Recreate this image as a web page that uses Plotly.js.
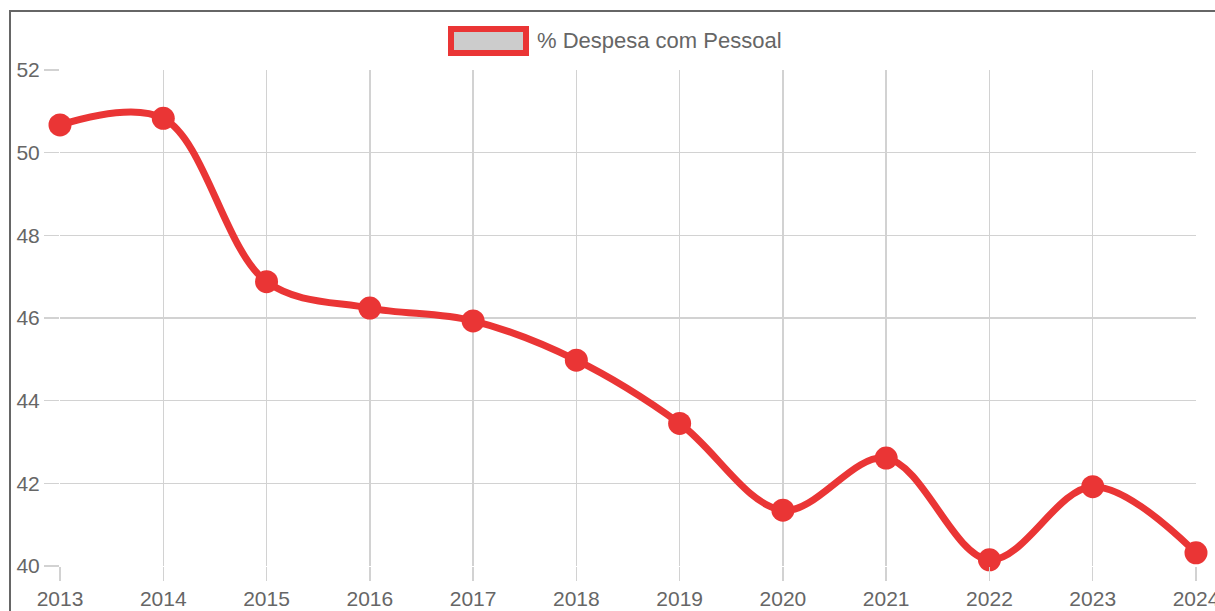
<!DOCTYPE html>
<html>
<head>
<meta charset="utf-8">
<script src="https://cdn.plot.ly/plotly-3.0.1.min.js"></script>
<style>
  html, body { margin: 0; padding: 0; background: #fff; overflow: hidden; }
  #chart { width: 1215px; height: 611px; position: absolute; left: 0; top: 0; }
  #frame { position: absolute; left: 9px; top: 10px; width: 1400px; height: 800px;
           border-top: 2px solid #666; border-left: 2px solid #666; pointer-events: none; }
</style>
</head>
<body>
<div id="chart"></div>
<div id="frame"></div>
<script>
const years = ['2013','2014','2015','2016','2017','2018','2019','2020','2021','2022','2023','2024'];
const despesaPessoal = [50.67, 50.83, 46.88, 46.24, 45.93, 44.98, 43.45, 41.35, 42.61, 40.15, 41.92, 40.32];
const seriesName = '% Despesa com Pessoal';
const yTicks = [40, 42, 44, 46, 48, 50, 52];

const red = '#ea3535';
const grid = '#d2d2d2';
const textColor = '#666666';
const fontFamily = '"Liberation Sans", Arial, sans-serif';

// plot area in pixels
const L = 60, R = 19, T = 70, B = 45, W = 1215, H = 611;
const pw = W - L - R, ph = H - T - B;
const px = x => (x - L) / pw;
const py = y => (H - B - y) / ph;

const trace = {
  x: years,
  y: despesaPessoal,
  name: seriesName,
  type: 'scatter',
  mode: 'lines+markers',
  line: { color: red, width: 7, shape: 'spline', smoothing: 1 },
  marker: { color: red, size: 23 },
  cliponaxis: false,
  showlegend: false,
  hoverinfo: 'x+y'
};

const layout = {
  width: W, height: H,
  margin: { l: L, r: R, t: T, b: B, pad: 0 },
  paper_bgcolor: '#ffffff',
  plot_bgcolor: '#ffffff',
  font: { family: fontFamily, size: 21, color: textColor },
  showlegend: false,
  xaxis: {
    type: 'category',
    range: [0, years.length - 1],
    showgrid: true, gridcolor: grid, gridwidth: 1.5,
    zeroline: false, showline: false,
    ticks: 'outside', ticklen: 14, tickcolor: grid, tickwidth: 1.5,
    tickfont: { family: fontFamily, size: 21, color: textColor },
    fixedrange: true
  },
  yaxis: {
    range: [40, 52],
    tickvals: yTicks,
    ticktext: yTicks.map(String),
    showgrid: true, gridcolor: grid, gridwidth: 1.5,
    zeroline: false, showline: false,
    ticks: 'outside', ticklen: 15, tickcolor: grid, tickwidth: 1.5,
    tickfont: { family: fontFamily, size: 21, color: textColor },
    fixedrange: true
  },
  shapes: [
    { type: 'rect', xref: 'paper', yref: 'paper',
      x0: px(451), x1: px(526), y0: py(53), y1: py(29),
      fillcolor: '#cccccc', line: { color: red, width: 6 } }
  ],
  annotations: [
    { xref: 'paper', yref: 'paper', x: px(535), y: py(40.5),
      xanchor: 'left', yanchor: 'middle', showarrow: false,
      text: seriesName, font: { family: fontFamily, size: 22, color: textColor } }
  ]
};

Plotly.newPlot('chart', [trace], layout, { displayModeBar: false, staticPlot: true });
</script>
</body>
</html>
